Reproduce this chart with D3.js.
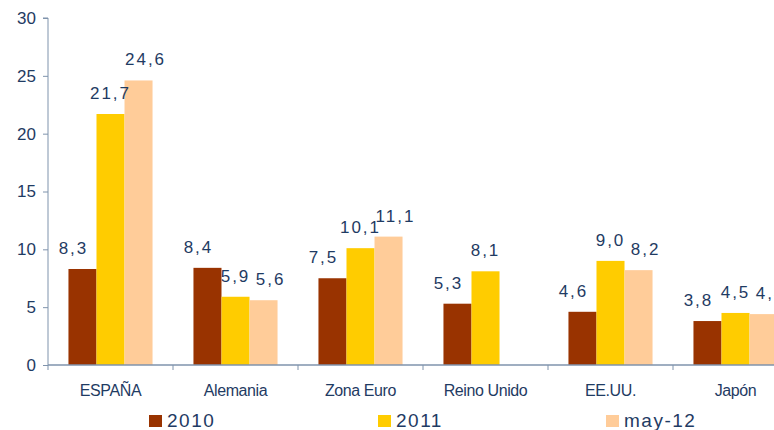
<!DOCTYPE html>
<html><head><meta charset="utf-8">
<script src="https://cdn.jsdelivr.net/npm/d3@7"></script>
<style>body{margin:0;background:#fff}svg{display:block;font-family:"Liberation Sans",Arial,sans-serif}</style>
</head><body><svg id="c" width="774" height="430"></svg>
<script>
const categories = ["ESPAÑA","Alemania","Zona Euro","Reino Unido","EE.UU.","Japón"];
const seriesNames = ["2010","2011","may-12"];
const values2010 = [8.3, 8.4, 7.5, 5.3, 4.6, 3.8];
const values2011 = [21.7, 5.9, 10.1, 8.1, 9.0, 4.5];
const valuesMay12 = [24.6, 5.6, 11.1, null, 8.2, 4.4];
const yTicks = [0,5,10,15,20,25,30];
const colors = ["#993300","#FFCC00","#FFCC99"];

const series = [values2010, values2011, valuesMay12];
const labelShift = [-10, -1, 6]; // label nudge per series (style)
const textColor = "#1F3B63";
const axisColor = "#7F93AC";
const svg = d3.select("#c");
const x0 = d3.scaleBand().domain(categories).range([48, 798]).paddingInner(0).paddingOuter(0);
const x1 = d3.scaleBand().domain(seriesNames).range([0, x0.bandwidth()]).paddingInner(0).paddingOuter(0.73);
const y = d3.scaleLinear().domain([0,30]).range([365, 18]);
const fmt = v => v.toFixed(1).replace(".", ",");

const points = [];
categories.forEach((c, i) => {
  seriesNames.forEach((s, j) => {
    const v = series[j][i];
    if (v != null) points.push({c, s, j, v});
  });
});

// bars
const gBars = svg.append("g");
gBars.selectAll("rect").data(points).join("rect")
  .attr("x", d => x0(d.c) + x1(d.s)).attr("y", d => y(d.v))
  .attr("width", x1.bandwidth()).attr("height", d => y(0) - y(d.v))
  .attr("fill", d => colors[d.j]);

// y axis
const yAxis = d3.axisLeft(y).tickValues(yTicks).tickSize(5).tickPadding(7).tickFormat(d3.format("d"));
const gy = svg.append("g").attr("transform","translate(48,0)").call(yAxis);
gy.select(".domain").attr("stroke", axisColor).attr("d", `M-5,${y(30)}H0V${y(0)}`);
gy.selectAll(".tick line").attr("stroke", axisColor);
gy.selectAll(".tick text").attr("fill", textColor).attr("font-size", 17).attr("font-family","Liberation Sans, Arial, sans-serif");

// x axis
const gx = svg.append("g").attr("transform",`translate(0,${y(0)})`);
gx.append("line").attr("x1",48).attr("x2",798).attr("stroke",axisColor).attr("stroke-width",1.5);
const bounds = categories.map(c => x0(c)).concat([x0.range()[1]]);
gx.selectAll("line.t").data(bounds).join("line").attr("class","t")
  .attr("x1",d=>d).attr("x2",d=>d).attr("y1",0).attr("y2",5).attr("stroke",axisColor);
gx.selectAll("text").data(categories).join("text")
  .attr("x", d => x0(d) + x0.bandwidth()/2).attr("y", 31)
  .attr("text-anchor","middle").attr("font-size",16).attr("letter-spacing","-0.4px")
  .attr("fill", textColor).text(d => d);

// value labels (on top of bars)
svg.append("g").selectAll("text").data(points).join("text")
  .attr("x", d => x0(d.c) + x1(d.s) + x1.bandwidth()/2 + labelShift[d.j] + 1)
  .attr("y", d => y(d.v) - 15)
  .attr("text-anchor","middle").attr("font-size",17).attr("letter-spacing","2px")
  .attr("fill", textColor).text(d => fmt(d.v));

// legend
const legX = [149, 378, 606];
const lg = svg.append("g");
seriesNames.forEach((s, j) => {
  lg.append("rect").attr("x", legX[j]).attr("y", 415).attr("width", 13).attr("height", 12).attr("fill", colors[j]);
  lg.append("text").attr("x", legX[j] + 18).attr("y", 427).attr("font-size", 19).attr("letter-spacing","1.5px")
    .attr("fill", textColor).text(s);
});
</script></body></html>
